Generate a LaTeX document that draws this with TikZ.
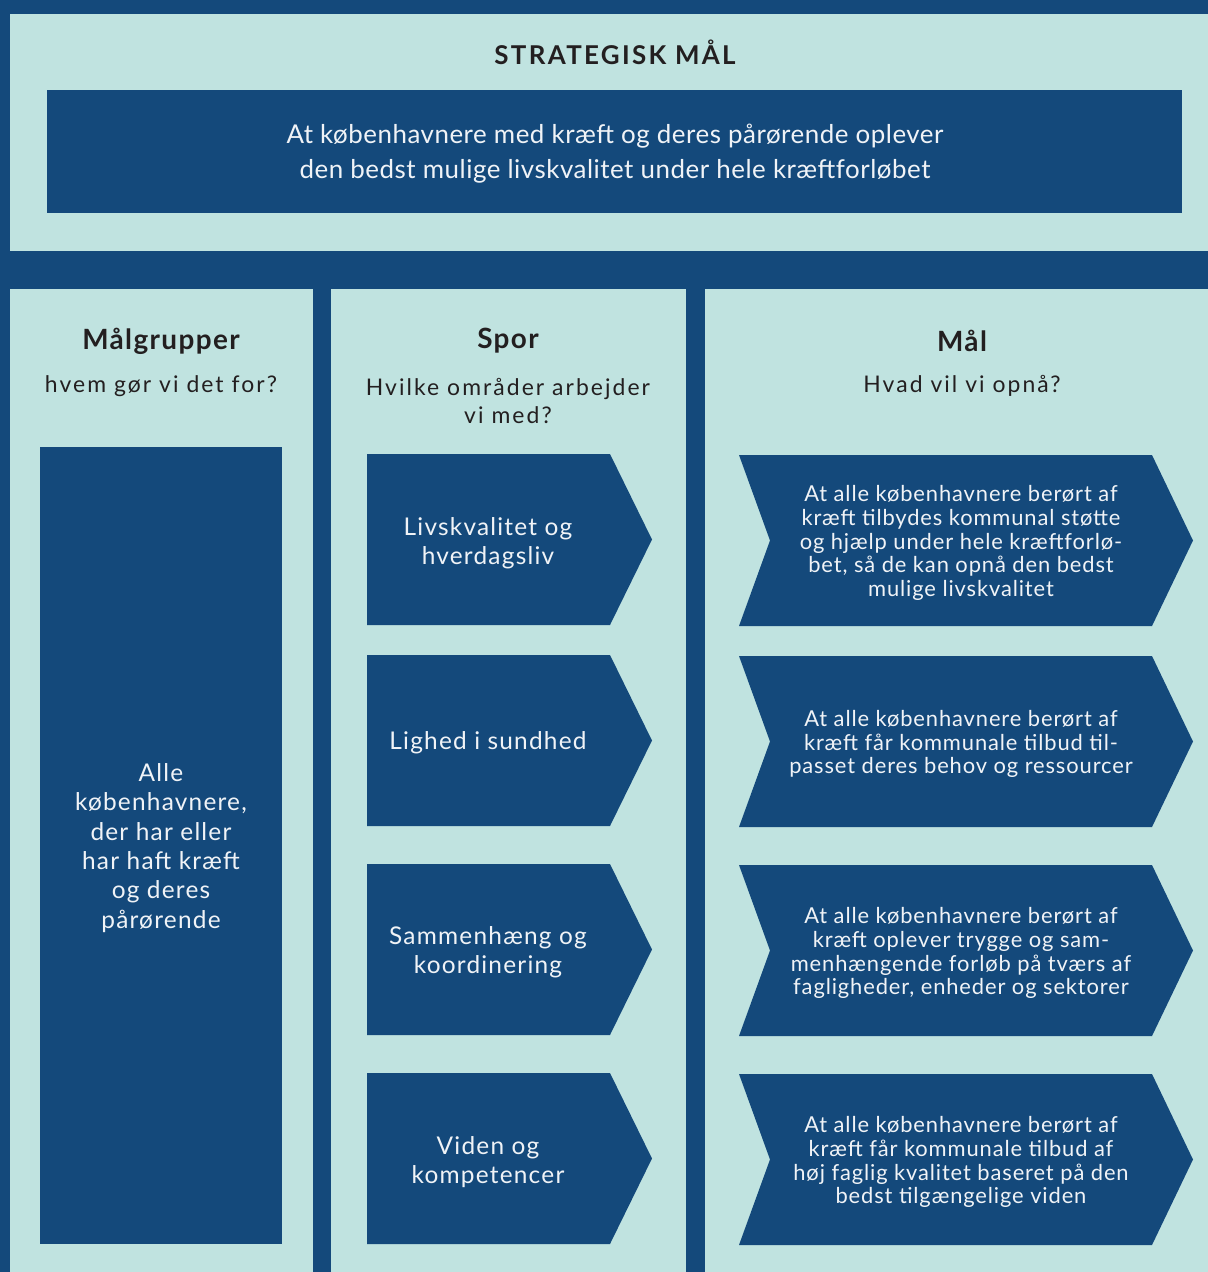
\documentclass[tikz,border=0pt]{standalone}
\usepackage{fontspec}
\setmainfont{Lato}
\definecolor{navy}{HTML}{14497B}
\definecolor{mint}{HTML}{C0E3E0}
\definecolor{ink}{HTML}{231F20}
\definecolor{paper}{HTML}{F0F3F7}
\tikzset{
  panel/.style={fill=mint},
  darkbox/.style={fill=navy},
  head/.style={text=ink,font=\fontsize{28}{32}\selectfont\bfseries\addfontfeatures{LetterSpace=5},inner sep=0pt},
  sub/.style={text=ink,font=\fontsize{23}{29}\selectfont\addfontfeatures{LetterSpace=9},align=center,inner sep=0pt},
  wtext/.style={text=paper,font=\fontsize{24.5}{29.4}\selectfont\addfontfeatures{LetterSpace=5},align=center,inner sep=0pt},
  ctext/.style={text=paper,font=\fontsize{22}{24}\selectfont\addfontfeatures{LetterSpace=4},align=center,inner sep=0pt},
}
\begin{document}
\begin{tikzpicture}[x=1bp,y=-1bp]
\useasboundingbox (0,0) rectangle (1208,1272);
\fill[navy] (0,0) rectangle (1208,1272);
% top panel
\fill[panel] (10,14) rectangle (1208,251);
\fill[darkbox] (47,90) rectangle (1182,213);
\node[text=ink,font=\fontsize{26}{30}\selectfont\bfseries\addfontfeatures{LetterSpace=9},inner sep=0pt] (title) at (615,52) {STRATEGISK MÅL};
\node[text=paper,font=\fontsize{26}{35}\selectfont\addfontfeatures{LetterSpace=2},align=center,inner sep=0pt] (goal) at (615,154) {At københavnere med kræft og deres pårørende oplever\\den bedst mulige livskvalitet under hele kræftforløbet};
% columns
\fill[panel] (10,289) rectangle (313,1272);
\fill[panel] (331,289) rectangle (686,1272);
\fill[panel] (705,289) rectangle (1208,1272);
% headings
\node[head] (h1) at (161,341) {Målgrupper};
\node[sub] (s1) at (161,386) {hvem gør vi det for?};
\node[head] (h2) at (508,341) {Spor};
\node[sub] (s2) at (508,401) {Hvilke områder arbejder\\vi med?};
\node[head] (h3) at (962,341) {Mål};
\node[sub] (s3) at (962,386) {Hvad vil vi opnå?};
% left box
\fill[darkbox] (40,447) rectangle (282,1244);
\node[wtext] (target) at (161,848) {Alle\\københavnere,\\der har eller\\har haft kræft\\og deres\\pårørende};
% middle arrows
\foreach \t/\b in {454/625,655/826,864/1035,1073/1244}{
  \fill[darkbox] (367,\t) -- (610,\t) -- (652,{(\t+\b)/2}) -- (610,\b) -- (367,\b) -- cycle;
}
\node[wtext] (p1) at (488,543) {Livskvalitet og\\hverdagsliv};
\node[wtext] (p2) at (488,743) {Lighed i sundhed};
\node[wtext] (p3) at (488,952) {Sammenhæng og\\koordinering};
\node[wtext] (p4) at (488,1162) {Viden og\\kompetencer};
% chevrons
\foreach \t/\b in {455/626,656/827,865/1036,1074/1245}{
  \fill[darkbox] (739,\t) -- (1152,\t) -- (1193,{(\t+\b)/2}) -- (1152,\b) -- (739,\b) -- (770,{(\t+\b)/2}) -- cycle;
}
\node[ctext] (g1) at (961,543) {At alle københavnere berørt af\\kræft tilbydes kommunal støtte\\og hjælp under hele kræftforlø-\\bet, så de kan opnå den bedst\\mulige livskvalitet};
\node[ctext] (g2) at (961,744) {At alle københavnere berørt af\\kræft får kommunale tilbud til-\\passet deres behov og ressourcer};
\node[ctext] (g3) at (961,953) {At alle københavnere berørt af\\kræft oplever trygge og sam-\\menhængende forløb på tværs af\\fagligheder, enheder og sektorer};
\node[ctext] (g4) at (961,1162) {At alle københavnere berørt af\\kræft får kommunale tilbud af\\høj faglig kvalitet baseret på den\\bedst tilgængelige viden};
\end{tikzpicture}
\end{document}
